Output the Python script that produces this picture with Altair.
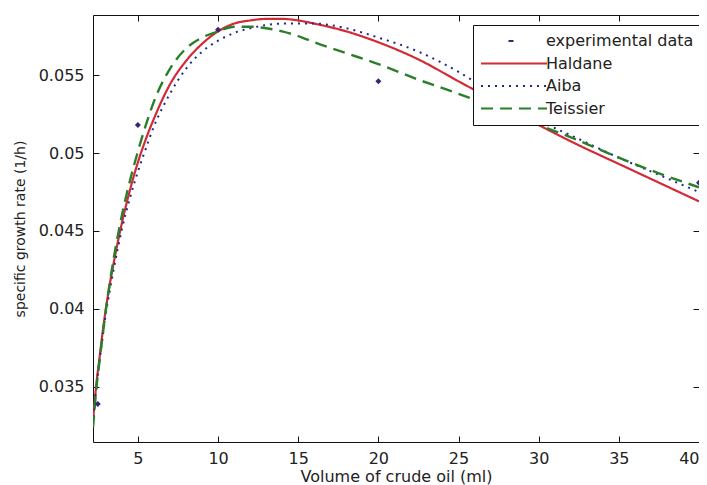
import altair as alt
import pandas as pd

# ---- data ----
series_names = ["experimental data", "Haldane", "Aiba", "Teissier"]
series_colors = ["#3a2470", "#d22b36", "#1c2a8a", "#2a7f2a"]
series_dashes = [[0, 27.5, 5, 100], [1, 0], [2, 5], [12, 7]]

x_curve = [2.2, 2.3, 2.4, 2.6, 2.8, 3.0, 3.25, 3.5, 3.75, 4.0, 4.5, 5.0, 5.5,
           6.0, 7.0, 8.0, 9.0, 10.0, 11.0, 12.0, 13.0, 14.0, 15.0, 16.0, 18.0,
           20.0, 22.5, 25.0, 27.5, 30.0, 32.5, 35.0, 37.5, 40.0]
haldane = [0.0328, 0.0340, 0.0351, 0.0368, 0.0385, 0.0400, 0.0416, 0.0430,
           0.0443, 0.0455, 0.0476, 0.0494, 0.0509, 0.0522, 0.0544, 0.0559,
           0.0570, 0.0578, 0.0583, 0.0585, 0.0586, 0.0586, 0.0585, 0.0583,
           0.0578, 0.0571, 0.0560, 0.0546, 0.0532, 0.0518, 0.0505, 0.0493,
           0.0481, 0.0469]
aiba = [0.0326, 0.0338, 0.0349, 0.0366, 0.0382, 0.0397, 0.0412, 0.0426,
        0.0439, 0.0451, 0.0471, 0.0488, 0.0503, 0.0517, 0.0538, 0.0554,
        0.0565, 0.0572, 0.0577, 0.0580, 0.0582, 0.0583, 0.0583, 0.0583,
        0.0580, 0.0574, 0.0565, 0.0552, 0.0536, 0.0521, 0.0509, 0.0497,
        0.0486, 0.0475]
teissier = [0.0324, 0.0336, 0.0348, 0.0366, 0.0383, 0.0399, 0.0417, 0.0433,
            0.0447, 0.0460, 0.0482, 0.0501, 0.0518, 0.0533, 0.0554, 0.0567,
            0.0574, 0.0578, 0.0581, 0.0581, 0.0580, 0.0578, 0.0575, 0.0571,
            0.0564, 0.0557, 0.0547, 0.0538, 0.0528, 0.0518, 0.0508, 0.0497,
            0.0487, 0.0478]

exp_x = [2.5, 5.0, 10.0, 20.0, 40.0]
exp_y = [0.0339, 0.0518, 0.0579, 0.0546, 0.0481]

x_ticks = [5, 10, 15, 20, 25, 30, 35, 40]
y_ticks = [0.035, 0.04, 0.045, 0.05, 0.055]
x_domain = [2.2, 40.0]
y_domain = [0.03147, 0.05885]

# ---- tables ----
rows = []
for name, vals in (("Haldane", haldane), ("Aiba", aiba), ("Teissier", teissier)):
    for xv, yv in zip(x_curve, vals):
        rows.append({"x": xv, "y": yv, "series": name})
curves = pd.DataFrame(rows)
points = pd.DataFrame({"x": exp_x, "y": exp_y})

W, H = 606, 427
FONT = "DejaVu Sans"
TXT = "#222222"

x_enc = alt.X(
    "x:Q",
    scale=alt.Scale(domain=x_domain, nice=False, zero=False),
    axis=alt.Axis(
        values=x_ticks, format="d", title="Volume of crude oil (ml)",
        grid=True, gridDash=[6, H - 12, 6, 1000], gridColor="#111111",
        gridOpacity=1, gridWidth=1, ticks=False, tickSize=0, domain=False,
        labelFlush=True,
        labelFont=FONT, labelFontSize=16, labelColor=TXT, labelPadding=8,
        titleFont=FONT, titleFontSize=16, titleFontWeight="normal",
        titleColor=TXT, titlePadding=2,
    ),
)
y_enc = alt.Y(
    "y:Q",
    scale=alt.Scale(domain=y_domain, nice=False, zero=False),
    axis=alt.Axis(
        values=y_ticks, format="~g", title="specific growth rate (1/h)",
        grid=True, gridDash=[6, W - 12, 6, 1000], gridColor="#111111",
        gridOpacity=1, gridWidth=1, ticks=False, tickSize=0, domain=False,
        labelFlush=False,
        labelFont=FONT, labelFontSize=16, labelColor=TXT, labelPadding=9,
        titleFont=FONT, titleFontSize=14, titleFontWeight="normal",
        titleColor=TXT, titlePadding=11,
    ),
)

legend = alt.Legend(
    orient="none", legendX=380, legendY=10,
    symbolType="M-5.5,0H5.5", symbolSize=144, symbolStrokeWidth=2,
    symbolOffset=25, labelOffset=24,
    labelFont=FONT, labelFontSize=16, labelColor=TXT, labelLimit=400,
    padding=8, rowPadding=6.5,
    strokeColor="#111111", fillColor="white",
)
color_enc = alt.Color(
    "series:N", title=None,
    scale=alt.Scale(domain=series_names, range=series_colors),
    legend=legend,
)
dash_enc = alt.StrokeDash(
    "series:N", title=None,
    scale=alt.Scale(domain=series_names, range=series_dashes),
    legend=legend,
)

layers = []
for name, sw in (("Haldane", 2.2), ("Aiba", 2.0), ("Teissier", 2.4)):
    layers.append(
        alt.Chart(curves)
        .transform_filter(alt.datum.series == name)
        .mark_line(clip=True, strokeWidth=sw, interpolate="monotone")
        .encode(x=x_enc, y=y_enc, color=color_enc, strokeDash=dash_enc)
    )

pts = (
    alt.Chart(points)
    .mark_point(shape="diamond", filled=True, size=36, color="#3a2470",
                opacity=1, clip=True)
    .encode(x=x_enc, y=y_enc)
)

chart = (
    alt.layer(*layers, pts)
    .properties(
        width=W, height=H, autosize="none",
        padding={"left": 85, "top": 7, "right": 0, "bottom": 43},
        background="white",
    )
    .configure_view(stroke="#111111", strokeWidth=1)
)

chart.save("out.html", embed_options={"renderer": "svg", "actions": False})
